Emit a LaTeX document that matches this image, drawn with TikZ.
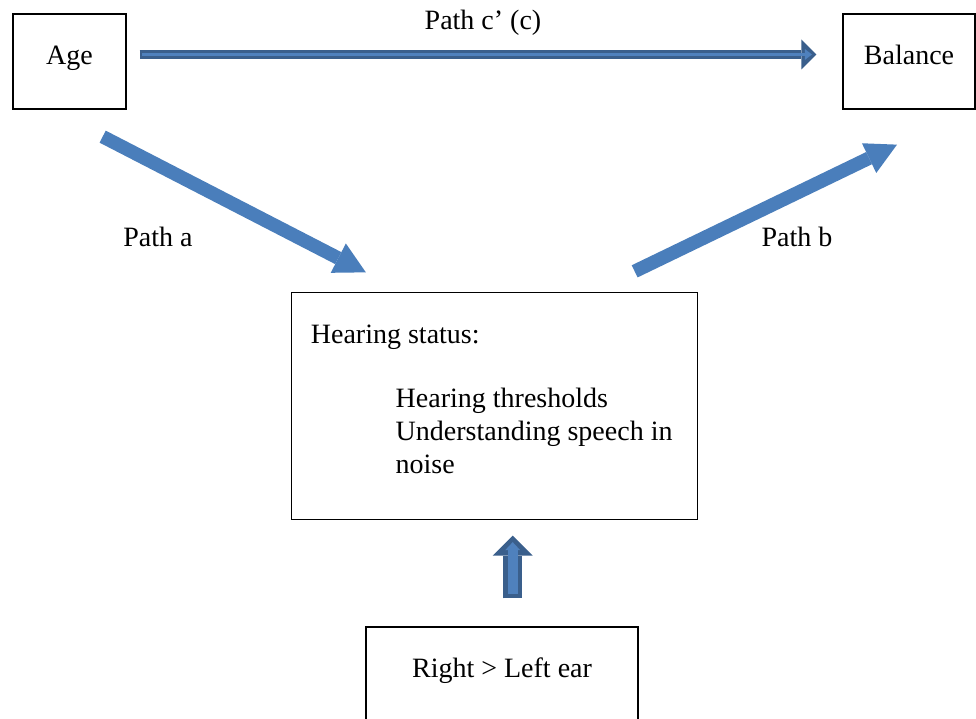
\documentclass[tikz,border=0pt]{standalone}
\usepackage{fontspec}
\setmainfont{Liberation Serif}
\usetikzlibrary{arrows.meta,calc}
\definecolor{arrowblue}{HTML}{4A7EBB}
\definecolor{blockfill}{HTML}{4F81BD}
\definecolor{blockedge}{HTML}{3A5F8C}
\begin{document}
\begin{tikzpicture}[x=1pt,y=1pt,
  txt/.style={font=\fontsize{28}{33}\selectfont, inner sep=0pt},
  box/.style={draw=black, line width=1.3pt, txt, text height=17pt, text depth=10pt},
  patharrow/.style={arrowblue, line width=13.5pt, -{Triangle[width=33pt,length=31pt,line width=0pt]}}
]
\useasboundingbox (0,0) rectangle (976,718);

% boxes
\node[box, minimum width=113, minimum height=95] (age) at (69.5,656.5) {Age};
\node[box, minimum width=132, minimum height=95] (balance) at (909,656.5) {Balance};
\node[box, minimum width=406, minimum height=227] (hear) at (494.5,312) {};
\node[box, minimum width=272, minimum height=140] (ear) at (502,21) {};

% texts
\node[txt, anchor=base west] (hs) at (310.7,374.7) {Hearing status:};
\node[txt, anchor=base west] (ht) at (395.5,311) {Hearing thresholds};
\node[txt, anchor=base west] (us) at (395.5,278) {Understanding speech in};
\node[txt, anchor=base west] (no) at (395.5,244.7) {noise};
\node[txt, anchor=base] (eartext) at (502,41) {Right > Left ear};
\node[txt, anchor=base] (pc) at (483,688) {Path c’ (c)};
\node[txt, anchor=base] (pa) at (158,471) {Path a};
\node[txt, anchor=base] (pb) at (797,471) {Path b};

% path a and b
\draw[patharrow] ([shift={(-24,-27)}]age.south east) -- ([shift={(75,19.5)}]hear.north west);
\draw[patharrow] ([shift={(-63.5,20.5)}]hear.north east) -- ([shift={(-12,-35)}]balance.south);

% path c (outlined block arrow)
\draw[blockedge, line width=8.5pt, -{Triangle[width=30pt,length=15pt,line width=0pt]}]
  ([shift={(13,7)}]age.east) -- ([shift={(-26,7)}]balance.west);
\draw[blockfill, line width=3pt, -{Triangle[width=11pt,length=7pt,line width=0pt]}]
  ([shift={(15.5,7)}]age.east) -- ([shift={(-30.5,7)}]balance.west);

% up arrow (outlined block arrow)
\coordinate (upstart) at ([shift={(10.7,28)}]ear.north);
\coordinate (upinner) at ([shift={(10.7,32.7)}]ear.north);
\draw[blockedge, line width=19pt, -{Triangle[width=40pt,length=20pt,line width=0pt]}]
  (upstart) -- ([yshift=-15.5]hear.south -| upstart);
\draw[blockfill, line width=9.7pt, -{Triangle[width=15pt,length=8pt,line width=0pt]}]
  (upinner) -- ([yshift=-22]hear.south -| upinner);
\end{tikzpicture}
\end{document}
